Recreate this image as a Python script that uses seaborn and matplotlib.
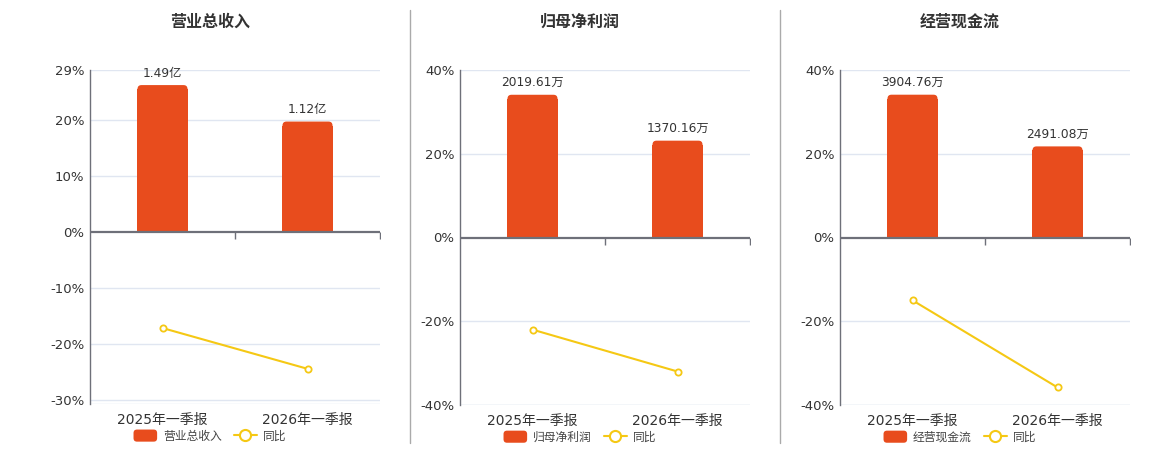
import matplotlib
matplotlib.use("Agg")
import matplotlib.pyplot as plt
import seaborn as sns
from matplotlib.patches import Patch, FancyBboxPatch
from matplotlib.lines import Line2D
from matplotlib.legend_handler import HandlerPatch
from matplotlib.transforms import blended_transform_factory

sns.set_style("white")
plt.rcParams['font.family'] = ['DejaVu Sans', 'Noto Sans CJK SC']

# Data
periods = ["2025年一季报", "2026年一季报"]
titles = ["营业总收入", "归母净利润", "经营现金流"]
# bar values in 万元
revenue = [14900, 11200]
net_profit = [2019.61, 1370.16]
cash_flow = [3904.76, 2491.08]
revenue_labels = ["1.49亿", "1.12亿"]
net_profit_labels = ["2019.61万", "1370.16万"]
cash_flow_labels = ["3904.76万", "2491.08万"]
# year-on-year change, %
revenue_yoy = [-17.2, -24.5]
net_profit_yoy = [-22.0, -32.0]
cash_flow_yoy = [-15.0, -35.8]

BAR_COLOR = "#e84c1d"
LINE_COLOR = "#f5c814"
GRID_COLOR = "#e0e6f1"
AXIS_COLOR = "#6e7079"
TEXT_COLOR = "#333333"

panels = [
    dict(title=titles[0], bars=revenue, labels=revenue_labels, yoy=revenue_yoy,
         ylim=(-30.8, 29), yticks=[29, 20, 10, 0, -10, -20, -30], bar_top=16430, left=90),
    dict(title=titles[1], bars=net_profit, labels=net_profit_labels, yoy=net_profit_yoy,
         ylim=(-40, 40), yticks=[40, 20, 0, -20, -40], bar_top=2370, left=460),
    dict(title=titles[2], bars=cash_flow, labels=cash_flow_labels, yoy=cash_flow_yoy,
         ylim=(-40, 40), yticks=[40, 20, 0, -20, -40], bar_top=4580, left=840),
]


def rounded_handle(legend, orig_handle, xdescent, ydescent, width, height, fontsize):
    return FancyBboxPatch((-xdescent, -ydescent), width, height,
                          boxstyle="round,pad=0,rounding_size=2.5")


fig = plt.figure(figsize=(11.6, 4.5), dpi=100)
W, H = 1160, 450
RADIUS_PX = 4

for p in panels:
    bottom_px = 404 if p["ylim"][0] != -40 else 405
    height_px = bottom_px - 70
    ax = fig.add_axes([p["left"] / W, 1 - bottom_px / H, 290 / W, height_px / H])
    ymin, ymax = p["ylim"]
    ax.set_ylim(ymin, ymax)
    ax.set_xlim(-0.5, 1.5)

    # grid (bottom layer)
    for t in p["yticks"]:
        if t != 0:
            ax.axhline(t, color=GRID_COLOR, lw=1, zorder=0)
    ax.axhline(ymin, color=GRID_COLOR, lw=1, zorder=0)

    # bars on hidden twin axis (middle layer)
    ax2 = ax.twinx()
    bar_lo = p["bar_top"] * ymin / ymax
    ax2.set_ylim(bar_lo, p["bar_top"])
    ax2.set_xlim(-0.5, 1.5)
    sns.barplot(x=periods, y=p["bars"], ax=ax2, color=BAR_COLOR, width=0.345,
                saturation=1, edgecolor="none", zorder=2)
    ax2.set_xlim(-0.5, 1.5)
    rx = RADIUS_PX / 145.0
    ry = RADIUS_PX * (p["bar_top"] - bar_lo) / height_px
    for rect in list(ax2.patches):
        x0, y0 = rect.get_x(), rect.get_y()
        w, h = rect.get_width(), rect.get_height()
        ax2.add_patch(FancyBboxPatch((x0, y0), w, h,
                                     boxstyle=f"round,pad=0,rounding_size={rx}",
                                     mutation_aspect=ry / rx, facecolor=BAR_COLOR,
                                     edgecolor="none", zorder=2))
        rect.set_height(h - ry)
    for i, (v, lab) in enumerate(zip(p["bars"], p["labels"])):
        ax2.annotate(lab, (i, v), xytext=(0, 4), textcoords="offset points",
                     ha="center", va="bottom", fontsize=8.8, color=TEXT_COLOR)
    ax2.axis("off")

    # line axis on top
    ax3 = ax.twinx()
    ax3.set_ylim(ymin, ymax)
    ax3.set_xlim(-0.5, 1.5)
    ax3.axis("off")
    sns.lineplot(x=[0, 1], y=p["yoy"], ax=ax3, color=LINE_COLOR, lw=1.5,
                 marker="o", markersize=4.5, markerfacecolor="white",
                 markeredgecolor=LINE_COLOR, markeredgewidth=1.3, zorder=4)
    ax3.set_xlim(-0.5, 1.5)

    # zero axis with ticks
    ax3.axhline(0, color=AXIS_COLOR, lw=1.6, zorder=3)
    for xb in [0.5, 1.5]:
        ax3.plot([xb], [0], color=AXIS_COLOR, marker=3, markersize=5,
                 markeredgewidth=1, zorder=3)

    # spines and ticks
    for s in ["top", "right", "bottom"]:
        ax.spines[s].set_visible(False)
    ax.spines["left"].set_color(AXIS_COLOR)
    ax.spines["left"].set_linewidth(1)
    ax.set_yticks(p["yticks"])
    ax.set_yticklabels([f"{t}%" for t in p["yticks"]], fontsize=9.5, color=TEXT_COLOR)
    ax.tick_params(axis="y", length=0, pad=4)
    ax.set_xticks([])

    tb = blended_transform_factory(ax.transData, ax.transAxes)
    for i, per in enumerate(periods):
        ax.text(i, -0.048, per, transform=tb, ha="center", va="center",
                fontsize=10, color=TEXT_COLOR)

    ax.text(0.414, 1.144, p["title"], transform=ax.transAxes, ha="center", va="center",
            fontsize=11.5, fontweight="bold", color=TEXT_COLOR)

    handles = [Patch(facecolor=BAR_COLOR, edgecolor="none"),
               Line2D([0], [0], color=LINE_COLOR, lw=1.5, marker="o", markersize=8,
                      markerfacecolor="white", markeredgecolor=LINE_COLOR, markeredgewidth=1.5)]
    ax3.legend(handles, [p["title"], "同比"], loc="center", bbox_to_anchor=(0.414, -0.096),
               ncol=2, frameon=False, fontsize=8.5, handlelength=2.0, handleheight=1.2,
               columnspacing=1.0, handletextpad=0.5, labelcolor="#444444",
               handler_map={Patch: HandlerPatch(patch_func=rounded_handle)})

for xs in [410, 780]:
    fig.add_artist(Line2D([xs / W, xs / W], [1 - 443 / H, 1 - 10 / H], color="#aaaaaa", lw=1))

fig.savefig("out.png", dpi=100)
